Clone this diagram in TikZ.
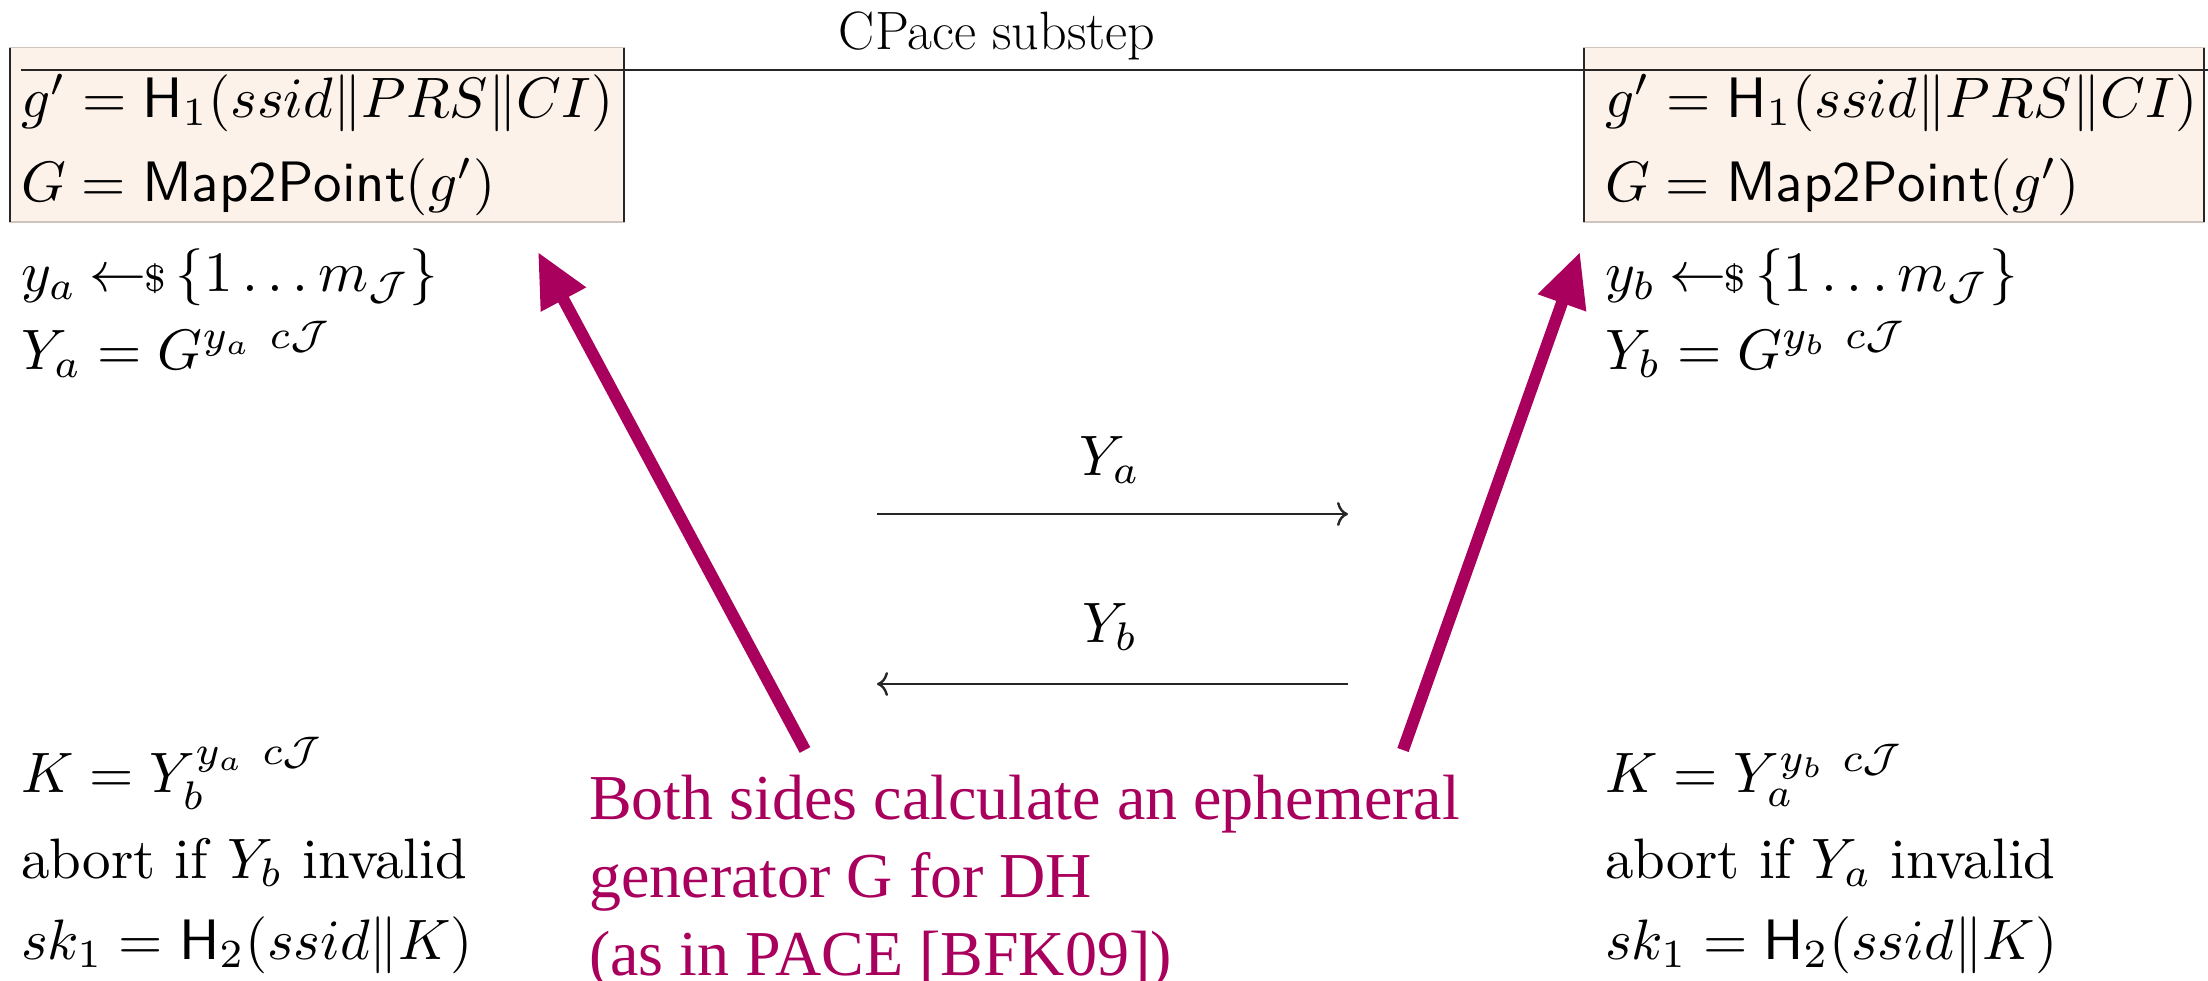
\RequirePackage{fix-cm}
\documentclass[tikz,border=0pt]{standalone}
\usepackage{amsmath}
\usepackage{graphicx}
\usepackage{fontspec}
\newfontfamily\purplefont{Liberation Serif}
\usetikzlibrary{arrows.meta}
\definecolor{boxfill}{HTML}{FDF2EA}
\definecolor{boxedge}{HTML}{CFC4BE}
\definecolor{notecol}{RGB}{168,0,92}
\newcommand{\smp}{{\hskip2.3pt{\leftarrow\!\!\mbox{\fontsize{6.5}{7}\selectfont$\$$}}\,}}
\newcommand{\sx}[1]{\scalebox{5.7}{\fontsize{10}{12}\selectfont #1}}
\tikzset{
  mtxt/.style={inner sep=0pt, anchor=base west},
  msglbl/.style={inner sep=0pt, anchor=base},
  ttl/.style={inner sep=0pt, anchor=base, font=\fontsize{54}{64}\selectfont},
  note/.style={inner sep=0pt, anchor=base west, text=notecol, font=\purplefont\fontsize{64}{78}\selectfont},
  msg/.style={line width=2.4pt, draw=black!85, -{To[length=11pt,width=24pt]}},
  callout/.style={line width=12pt, draw=notecol, -{Triangle[length=54pt,width=48pt]}},
  pbox/.style={fill=boxfill, draw=boxedge, line width=1.5pt},
  rule/.style={line width=2.4pt, draw=black!85}
}
\begin{document}
\begin{tikzpicture}[x=1pt,y=-1pt]
\useasboundingbox (0,0) rectangle (2208,980);
% boxes
\path[pbox] (10,47.5) rectangle (624,222);
\path[pbox] (1584,47.5) rectangle (2204,222);
\draw[rule] (10,47.5) -- (10,222);
\draw[rule] (624,47.5) -- (624,222);
\draw[rule] (1584,47.5) -- (1584,222);
\draw[rule] (2204,47.5) -- (2204,222);
% title and rule
\node[ttl] (title) at (997,49) {CPace substep};
\coordinate (rl) at (21,70);
\coordinate (rr) at (2208,70);
\draw[rule] (rl) -- (rr);
% left column
\node[mtxt] (a1) at (21,117) {\sx{$g' = \mathsf{H}_1(ssid\|PRS\|CI)$}};
\node[mtxt] (a2) at (21,201) {\sx{$G = \mathsf{Map2Point}(g')$}};
\node[mtxt] (a3) at (21,291) {\sx{$y_a \smp \{1\ldots m_{\mathcal{J}}\}$}};
\node[mtxt] (a4) at (21,369) {\sx{$Y_a = G^{y_a\ c\mathcal{J}}$}};
\node[mtxt] (a5) at (21,792) {\sx{$K = Y_b^{y_a\ c\mathcal{J}}$}};
\node[mtxt] (a6) at (21,878) {\sx{abort if $Y_b$ invalid}};
\node[mtxt] (a7) at (21,959) {\sx{$sk_1 = \mathsf{H}_2(ssid\|K)$}};
% right column
\node[mtxt] (b1) at (1605,117) {\sx{$g' = \mathsf{H}_1(ssid\|PRS\|CI)$}};
\node[mtxt] (b2) at (1605,201) {\sx{$G = \mathsf{Map2Point}(g')$}};
\node[mtxt] (b3) at (1605,291) {\sx{$y_b \smp \{1\ldots m_{\mathcal{J}}\}$}};
\node[mtxt] (b4) at (1605,369) {\sx{$Y_b = G^{y_b\ c\mathcal{J}}$}};
\node[mtxt] (b5) at (1605,792) {\sx{$K = Y_a^{y_b\ c\mathcal{J}}$}};
\node[mtxt] (b6) at (1605,878) {\sx{abort if $Y_a$ invalid}};
\node[mtxt] (b7) at (1605,959) {\sx{$sk_1 = \mathsf{H}_2(ssid\|K)$}};
% messages
\coordinate (m1l) at (877,514);
\coordinate (m1r) at (1348,514);
\coordinate (m2l) at (877,684);
\coordinate (m2r) at (1348,684);
\node[msglbl] (ya) at (1110,475) {\sx{$Y_a$}};
\node[msglbl] (yb) at (1110,642) {\sx{$Y_b$}};
\draw[msg] (m1l) -- (m1r);
\draw[msg] (m2r) -- (m2l);
% note
\node[note] (n1) at (589,819) {Both sides calculate an ephemeral};
\node[note] (n2) at (589,897) {generator G for DH};
\node[note] (n3) at (589,975) {(as in PACE [BFK09])};
\coordinate (cl0) at (805,750);
\coordinate (cl1) at (538,252);
\coordinate (cr0) at (1403,750);
\coordinate (cr1) at (1580,252);
\draw[callout] (cl0) -- (cl1);
\draw[callout] (cr0) -- (cr1);
\end{tikzpicture}
\end{document}
